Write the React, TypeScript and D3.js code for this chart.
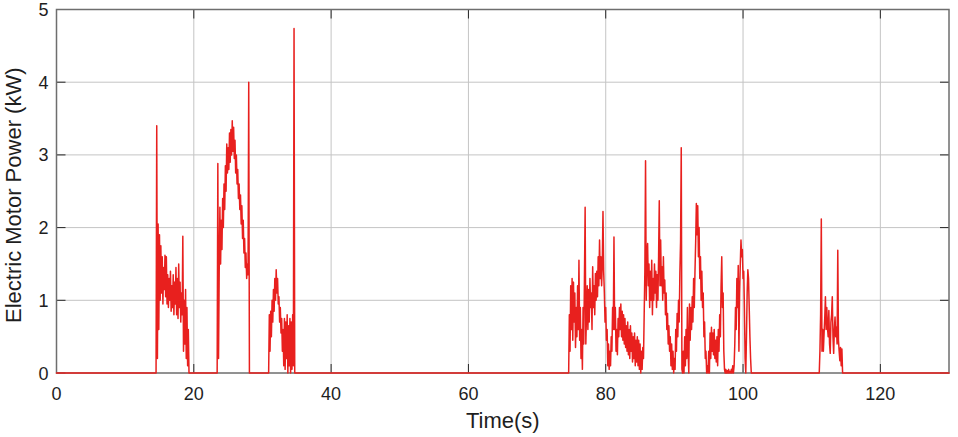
import React from "react";
import * as d3 from "d3";

// ---- data (kW), sampled every STEP seconds inside active segments ----
const STEP = 0.1;
const X_MAX = 130;
const xTicks = [0, 20, 40, 60, 80, 100, 120];
const yTicks = [0, 1, 2, 3, 4, 5];

const seg1Start = 14.5;
const seg1 = [0, 3.4, 0.2, 2.05, 0.6, 1.9, 1.0, 1.75, 1.1, 1.6, 0.95, 1.45, 1.15, 1.62, 1.05, 1.6, 0.95, 1.35, 0.9, 1.3, 1.0, 1.4, 0.85, 1.2, 0.9, 1.35, 0.8, 1.25, 0.95, 1.45, 0.8, 1.3, 0.75, 1.5, 0.9, 1.25, 0.7, 1.1, 0.8, 1.88, 0.3, 1.0, 0.4, 1.15, 0.2, 0.9, 0.1, 0.6, 0];

const seg2Start = 23.4;
const seg2 = [0, 2.88, 0.2, 1.4, 2.28, 1.5, 2.1, 1.7, 2.4, 2.0, 2.6, 2.25, 2.85, 2.5, 3.15, 2.75, 3.1, 2.8, 3.3, 2.9, 3.35, 3.0, 3.47, 3.05, 3.38, 2.95, 3.2, 2.75, 3.0, 2.6, 2.8, 2.4, 2.6, 2.25, 2.45, 2.05, 2.3, 1.85, 2.1, 1.65, 1.85, 1.45, 1.65, 1.3, 1.5, 1.35, 4.0, 0];

const seg3Start = 30.9;
const seg3 = [0, 0.8, 0.3, 0.85, 0.5, 1.0, 0.7, 1.15, 0.85, 1.3, 1.0, 1.42, 1.1, 1.3, 0.95, 1.05, 0.7, 0.9, 0.55, 0.75, 0.3, 0.6, 0.1, 0.75, 0.05, 0.7, 0.2, 0.8, 0.0, 0.65, 0.1, 0.75, 0.0, 0.7, 0.05, 0.8, 0.1, 4.74, 0];

const seg4Start = 74.6;
const seg4 = [
  0, 0.8, 0.3, 1.2, 0.6, 1.3, 0.45, 1.25, 0.7, 1.1, // 74.6
  0.35, 0.9, 0.5, 1.2, 0.6, 1.55, 0.45, 0.9, 0.2, 0.6, // 75.6
  0.05, 0.9, 0.4, 1.3, 2.28, 0.4, 0.8, 1.2, 0.6, 1.15, // 76.6
  0.7, 1.3, 0.9, 1.1, 0.6, 1.46, 0.9, 1.2, 0.8, 1.37, // 77.6
  1.0, 1.4, 1.05, 1.6, 1.2, 1.83, 1.3, 1.6, 1.2, 1.5, // 78.6
  2.22, 1.4, 1.1, 0.7, 0.9, 0.45, 0.6, 0.1, 0.4, 0.05, // 79.6
  0.3, 0.1, 0.5, 0.3, 0.9, 0.6, 1.87, 0.6, 0.9, 0.3, // 80.6
  0.6, 0.25, 0.75, 0.5, 0.9, 0.6, 0.95, 0.5, 0.85, 0.45, // 81.6
  0.8, 0.4, 0.75, 0.35, 0.65, 0.3, 0.7, 0.25, 0.6, 0.2, // 82.6
  0.65, 0.3, 0.55, 0.15, 0.5, 0.2, 0.55, 0.1, 0.45, 0.15, // 83.6
  0.5, 0.1, 0.45, 0.05, 0.4, 0.0, 0.3, 0.05, 0.35, 0.2, // 84.6
  0.8, 1.4, 2.92, 1.0, 1.6, 1.78, 1.2, 1.5, 0.9, 1.4, // 85.6
  1.0, 1.55, 0.8, 1.3, 1.0, 1.5, 1.1, 1.4, 0.9, 1.35, // 86.6
  1.0, 1.6, 2.37, 1.2, 1.83, 1.2, 1.46, 1.0, 1.6, 1.1, // 87.6
  1.28, 0.8, 1.1, 0.6, 0.82, 0.4, 0.65, 0.3, 0.5, 0.1, // 88.6
  0.4, 0.05, 0.3, 0.0, 0.2, 0.05, 0.6, 0.3, 0.82, 0.5, // 89.6
  1.0, 0.7, 1.37, 1.8, 3.1, 0.05, 0.0, 0.3, 0.0, 0.5, // 90.6
  0.1, 0.6, 0.2, 0.9, 0.3, 0.0, 0.95, 0.45, 0.9, 0.6, // 91.6
  1.05, 0.7, 1.3, 0.9, 1.4, 1.8, 2.33, 1.9, 2.3, 1.6, // 92.6
  2.0, 1.3, 1.6, 1.0, 1.4, 0.9, 1.1, 0.5, 0.7, 0.2, // 93.6
  0.3, 0.0, 0.1, 0.0, 0.3, 0.0, 0.55, 0.2, 0.63, 0.3, // 94.6
  0.55, 0.25, 0.6, 0.2, 0.45, 0.15, 0.5, 0.1, 0.6, 0.3, // 95.6
  0.8, 0.5, 1.2, 1.6, 0.9, 1.1, 0.3, 0.05, 0.0, 0.05, // 96.6
  0.0, 0.03, 0.0, 0.05, 0.0, 0.02, 0.0, 0.05, 0.0, 0.1, // 97.6
  0.0, 0.1, 0.4, 0.9, 0.6, 1.3, 0.9, 1.48, 0.3, 1.1, // 98.6
  1.5, 1.83, 1.6, 1.7, 1.3, 1.4, 0.9, 0.2, 0.0, 0.5, // 99.6
  1.1, 1.42, 1.3, 0.9, 0.5, 0.2, 0 // 100.6
];

const seg5Start = 111.1;
const seg5 = [0, 0.3, 0.8, 2.12, 0.3, 0.6, 0.3, 0.54, 0.75, 1.05, 0.6, 0.9, 0.63, 0.5, 0.86, 0.4, 0.27, 0.7, 0.8, 1.05, 0.5, 0.27, 0.6, 0.77, 0.5, 0.63, 0.4, 1.69, 0.45, 0.3, 0.17, 0.35, 0.1, 0.33, 0];

const segments: [number, number[]][] = [
  [seg1Start, seg1],
  [seg2Start, seg2],
  [seg3Start, seg3],
  [seg4Start, seg4],
  [seg5Start, seg5],
];

// ---- layout ----
const W = 958;
const H = 437;
const M = { left: 56.5, right: 949, top: 9.5, bottom: 373 };
const FONT = "'Liberation Sans', Arial, Helvetica, sans-serif";

export default function App() {
  const x = d3.scaleLinear().domain([0, X_MAX]).range([M.left, M.right]);
  const y = d3.scaleLinear().domain([0, 5]).range([M.bottom, M.top]);

  const pts: [number, number][] = [[0, 0]];
  segments.forEach(([start, vals]) => {
    vals.forEach((v, i) => pts.push([start + i * STEP, v]));
  });
  pts.push([X_MAX, 0]);

  const line = d3
    .line<[number, number]>()
    .x((d) => x(d[0]))
    .y((d) => y(d[1]));

  const tickLen = 9;
  const axisColor = "#6e6e6e";
  const gridColor = "#c4c4c4";
  const textColor = "#1e1e1e";

  return (
    <svg
      width={W}
      height={H}
      style={{ position: "absolute", left: 0, top: 0, background: "#fff" }}
    >
      <rect x={0} y={0} width={W} height={H} fill="#fff" />
      {/* grid */}
      {xTicks
        .filter((t) => t > 0)
        .map((t) => (
          <line
            key={"gx" + t}
            x1={x(t)}
            x2={x(t)}
            y1={M.top}
            y2={M.bottom}
            stroke={gridColor}
            strokeWidth={1}
          />
        ))}
      {yTicks
        .filter((t) => t > 0 && t < 5)
        .map((t) => (
          <line
            key={"gy" + t}
            x1={M.left}
            x2={M.right}
            y1={y(t)}
            y2={y(t)}
            stroke={gridColor}
            strokeWidth={1}
          />
        ))}
      {/* ticks */}
      {xTicks.map((t) => (
        <g key={"tx" + t}>
          <line x1={x(t)} x2={x(t)} y1={M.bottom} y2={M.bottom - tickLen} stroke="#262626" strokeWidth={1} />
          <line x1={x(t)} x2={x(t)} y1={M.top} y2={M.top + tickLen} stroke="#262626" strokeWidth={1} />
          <text
            x={x(t)}
            y={M.bottom + 27}
            textAnchor="middle"
            fontFamily={FONT}
            fontSize={18}
            fill={textColor}
          >
            {t}
          </text>
        </g>
      ))}
      {yTicks.map((t) => (
        <g key={"ty" + t}>
          <line x1={M.left} x2={M.left + tickLen} y1={y(t)} y2={y(t)} stroke="#262626" strokeWidth={1} />
          <line x1={M.right} x2={M.right - tickLen} y1={y(t)} y2={y(t)} stroke="#262626" strokeWidth={1} />
          <text
            x={M.left - 8}
            y={y(t) + 6.5}
            textAnchor="end"
            fontFamily={FONT}
            fontSize={18}
            fill={textColor}
          >
            {t}
          </text>
        </g>
      ))}
      {/* box */}
      <rect
        x={M.left}
        y={M.top}
        width={M.right - M.left}
        height={M.bottom - M.top}
        fill="none"
        stroke={axisColor}
        strokeWidth={1.5}
      />
      {/* data */}
      <path
        d={line(pts) || ""}
        fill="none"
        stroke="#e8201e"
        strokeWidth={1.5}
        strokeLinejoin="round"
        strokeLinecap="round"
      />
      {/* axis titles */}
      <text
        x={(M.left + M.right) / 2}
        y={428}
        textAnchor="middle"
        fontFamily={FONT}
        fontSize={22}
        fill={textColor}
      >
        Time(s)
      </text>
      <text
        transform={`translate(21, ${(M.top + M.bottom) / 2 + 4}) rotate(-90)`}
        textAnchor="middle"
        fontFamily={FONT}
        fontSize={22}
        fill={textColor}
      >
        Electric Motor Power (kW)
      </text>
    </svg>
  );
}
